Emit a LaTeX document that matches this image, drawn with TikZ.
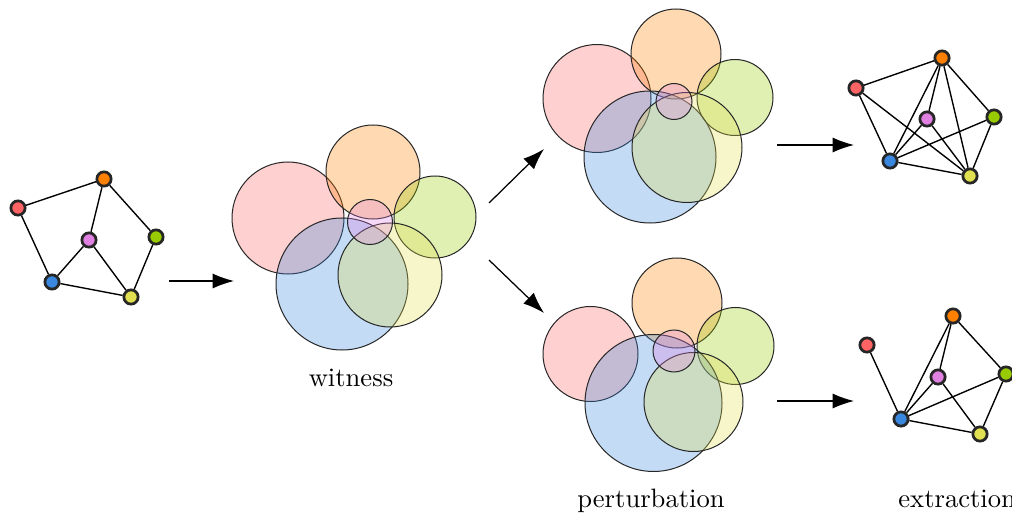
\documentclass[tikz,border=0pt]{standalone}
\usetikzlibrary{arrows.meta}
\definecolor{vred}{RGB}{255,99,99}
\definecolor{vorange}{RGB}{255,128,0}
\definecolor{vgreen}{RGB}{153,204,0}
\definecolor{vblue}{RGB}{58,135,224}
\definecolor{vyellow}{RGB}{224,224,80}
\definecolor{vpink}{RGB}{224,128,224}
\tikzset{
    vtx/.style={circle,draw=black!85,line width=1.1pt,inner sep=0pt,minimum size=2mm} }
\tikzset{
    disk/.style={draw=black!85,line width=0.4pt,fill opacity=0.3} }
\tikzset{
    bigarrow/.style={-{Latex[length=8.5pt,width=6pt]},line width=0.5pt} }
\tikzset{
    caption/.style={scale=1.06} }

\begin{document}
\begin{tikzpicture}[x=0.014cm,y=-0.014cm]
  \useasboundingbox (0,0) rectangle (1012,516);

% input graph
  \node [vtx,fill=vred] (r1) at (18,208) {};  \node [vtx,fill=vorange] (o1) at (104,179) {};
  \node [vtx,fill=vpink] (p1) at (89,240) {};  \node [vtx,fill=vgreen] (g1) at (156,237) {};
  \node [vtx,fill=vblue] (b1) at (52,282) {};  \node [vtx,fill=vyellow] (y1) at (131,297) {};
  \draw [line width=0.55pt] (r1) -- (o1) (r1) -- (b1) (o1) -- (p1) (o1) -- (g1)
    (p1) -- (b1) (p1) -- (y1) (g1) -- (y1) (b1) -- (y1);

  \coordinate (s1) at (169,281); \coordinate (t1) at (234,281);
  \draw [bigarrow] (s1) -- (t1);

% witness
  \filldraw [disk,fill=vred] (288,218) circle (56);
  \filldraw [disk,fill=vorange] (373,172) circle (47);
  \filldraw [disk,fill=vgreen] (435,217) circle (41);
  \filldraw [disk,fill=vblue] (342,284) circle (66);
  \filldraw [disk,fill=vyellow] (390,275) circle (52);
  \filldraw [disk,fill=vpink] (370,222) circle (22.5);
  \node [caption] (wit) at (351,378) {witness};

  \coordinate (s2) at (489,203); \coordinate (t2) at (544,149);
  \coordinate (s3) at (489,260); \coordinate (t3) at (544,313);
  \draw [bigarrow] (s2) -- (t2); \draw [bigarrow] (s3) -- (t3);

% perturbation, top
  \filldraw [disk,fill=vred] (597,98.5) circle (54);
  \filldraw [disk,fill=vorange] (676,54) circle (45);
  \filldraw [disk,fill=vgreen] (735,97.5) circle (38);
  \filldraw [disk,fill=vblue] (650,157) circle (66);
  \filldraw [disk,fill=vyellow] (687,147.5) circle (55);
  \filldraw [disk,fill=vpink] (674,101.5) circle (18);

% perturbation, bottom
  \filldraw [disk,fill=vred] (590.5,354) circle (47.5);
  \filldraw [disk,fill=vorange] (677,303) circle (45);
  \filldraw [disk,fill=vgreen] (735.5,346) circle (38.5);
  \filldraw [disk,fill=vblue] (653.5,403) circle (68.5);
  \filldraw [disk,fill=vyellow] (693.5,402) circle (49.5);
  \filldraw [disk,fill=vpink] (674,351) circle (21);
  \node [caption] (pert) at (651,501) {perturbation};

  \coordinate (s4) at (777,145); \coordinate (t4) at (854,145);
  \coordinate (s5) at (777,401); \coordinate (t5) at (854,401);
  \draw [bigarrow] (s4) -- (t4); \draw [bigarrow] (s5) -- (t5);

% extracted graph, top
  \node [vtx,fill=vred] (r2) at (856,88) {};  \node [vtx,fill=vorange] (o2) at (942,58) {};
  \node [vtx,fill=vpink] (p2) at (927,119) {};  \node [vtx,fill=vgreen] (g2) at (994,117) {};
  \node [vtx,fill=vblue] (b2) at (890,161) {};  \node [vtx,fill=vyellow] (y2) at (970,176) {};
  \draw [line width=0.55pt] (r2) -- (o2) (r2) -- (b2) (r2) -- (y2) (o2) -- (p2) (o2) -- (b2)
    (o2) -- (y2) (o2) -- (g2) (p2) -- (b2) (p2) -- (y2) (g2) -- (b2) (g2) -- (y2) (b2) -- (y2);

% extracted graph, bottom
  \node [vtx,fill=vred] (r3) at (867,345) {};  \node [vtx,fill=vorange] (o3) at (953,316) {};
  \node [vtx,fill=vpink] (p3) at (938,377) {};  \node [vtx,fill=vgreen] (g3) at (1006,374) {};
  \node [vtx,fill=vblue] (b3) at (901,419) {};  \node [vtx,fill=vyellow] (y3) at (980,434) {};
  \draw [line width=0.55pt] (r3) -- (b3) (o3) -- (p3) (o3) -- (b3) (o3) -- (g3)
    (p3) -- (b3) (p3) -- (y3) (g3) -- (b3) (g3) -- (y3) (b3) -- (y3);
  \node [caption,anchor=west] (extr) at (889,499) {extraction};

\end{tikzpicture}
\end{document}
